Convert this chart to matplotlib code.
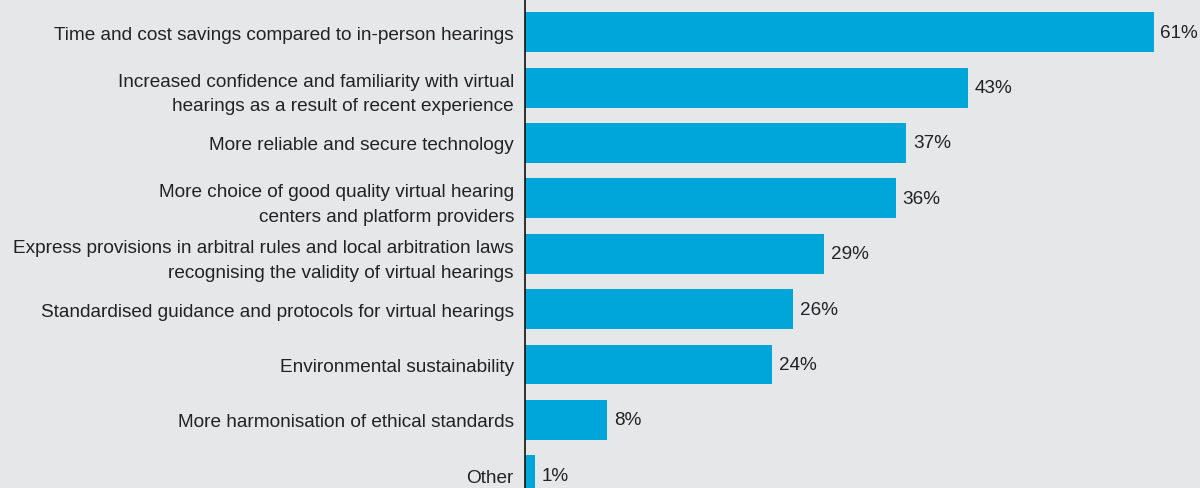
import numpy as np
import matplotlib.pyplot as plt

labels = [
    "Time and cost savings compared to in-person hearings",
    "Increased confidence and familiarity with virtual\nhearings as a result of recent experience",
    "More reliable and secure technology",
    "More choice of good quality virtual hearing\ncenters and platform providers",
    "Express provisions in arbitral rules and local arbitration laws\nrecognising the validity of virtual hearings",
    "Standardised guidance and protocols for virtual hearings",
    "Environmental sustainability",
    "More harmonisation of ethical standards",
    "Other",
]
values = [61, 43, 37, 36, 29, 26, 24, 8, 1]

bg = '#e6e7e9'
bar_color = '#00a6d9'
text_color = '#222222'

plt.rcParams['font.family'] = ['Liberation Sans', 'DejaVu Sans']

fig = plt.figure(figsize=(12, 4.89), dpi=100, facecolor=bg)
ax = fig.add_axes([525 / 1200, 0, 675 / 1200, 1])
ax.set_facecolor(bg)

pos = np.arange(len(values))
ax.barh(pos, values, height=0.72, color=bar_color)

# value labels just past the end of each bar
for p, v in zip(pos, values):
    ax.text(v + 0.65, p, f"{v}%", va='center', ha='left', fontsize=13.6, color=text_color)

ax.set_yticks(pos)
ax.set_yticklabels(labels, fontsize=13.7, color=text_color, linespacing=1.6)
ax.tick_params(axis='y', length=0, pad=8)
ax.set_xticks([])
ax.set_xlim(0, 65.5)
ax.set_ylim(8.23, -0.6)

for side in ['top', 'right', 'bottom']:
    ax.spines[side].set_visible(False)
ax.spines['left'].set_color('#111111')
ax.spines['left'].set_linewidth(1.2)

fig.savefig('out.png', dpi=100, facecolor=bg)
